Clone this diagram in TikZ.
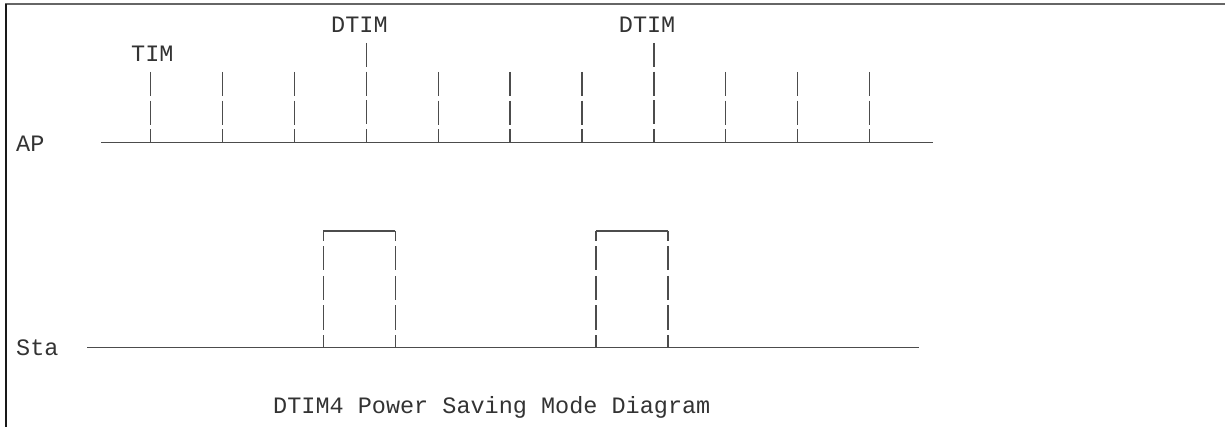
\documentclass[tikz,border=0pt]{standalone}
\usepackage{fontspec}
\setmonofont{Liberation Mono}
\begin{document}
\begin{tikzpicture}[x=1pt,y=-1pt,
  txt/.style={inner sep=0pt,anchor=base west,text=black!80,font=\ttfamily\fontsize{23.5pt}{28pt}\selectfont},
  baseline/.style={draw=black!70,line width=1.25pt},
  tickline/.style={draw=black!70,line width=1.25pt,dash pattern=on 24pt off 4.7pt},
  pulseline/.style={draw=black!70,line width=1.25pt,dash pattern=on 24pt off 5.5pt,dash phase=14pt},
  frameline/.style={line width=1.6pt}]
\useasboundingbox (0,0) rectangle (1225,427);
% frame
\draw[frameline,draw=black!60] (5,4) -- (1225,4);
\draw[frameline,draw=black!90] (6,4) -- (6,427);
% labels
\node[txt] (dtim1) at (331,33) {DTIM};
\node[txt] (dtim2) at (618.7,33) {DTIM};
\node[txt] (tim) at (131,62) {TIM};
\node[txt] (ap) at (16,152) {AP};
\node[txt] (sta) at (16,355) {Sta};
\node[txt] (title) at (273,413) {DTIM4 Power Saving Mode Diagram};
% AP line
\coordinate (apL) at (101,142.7);
\coordinate (apR) at (933,142.7);
\draw[baseline] (apL) -- (apR);
\foreach \x in {150.7,222.6,294.5,438.2,510.1,582,725.8,797.7,869.6}{
  \draw[tickline] (\x,72) -- (\x,142.7);
}
\foreach \x in {366.4,654}{
  \draw[tickline] (\x,43) -- (\x,142.7);
}
% Sta line
\coordinate (staL) at (87,347.3);
\coordinate (staR) at (919,347.3);
\draw[baseline] (staL) -- (staR);
\foreach \a/\b in {323.3/395.3,596/668}{
  \draw[baseline] (\a,231) -- (\b,231);
  \draw[pulseline] (\a,231) -- (\a,347.3);
  \draw[pulseline] (\b,231) -- (\b,347.3);
}
\end{tikzpicture}
\end{document}
